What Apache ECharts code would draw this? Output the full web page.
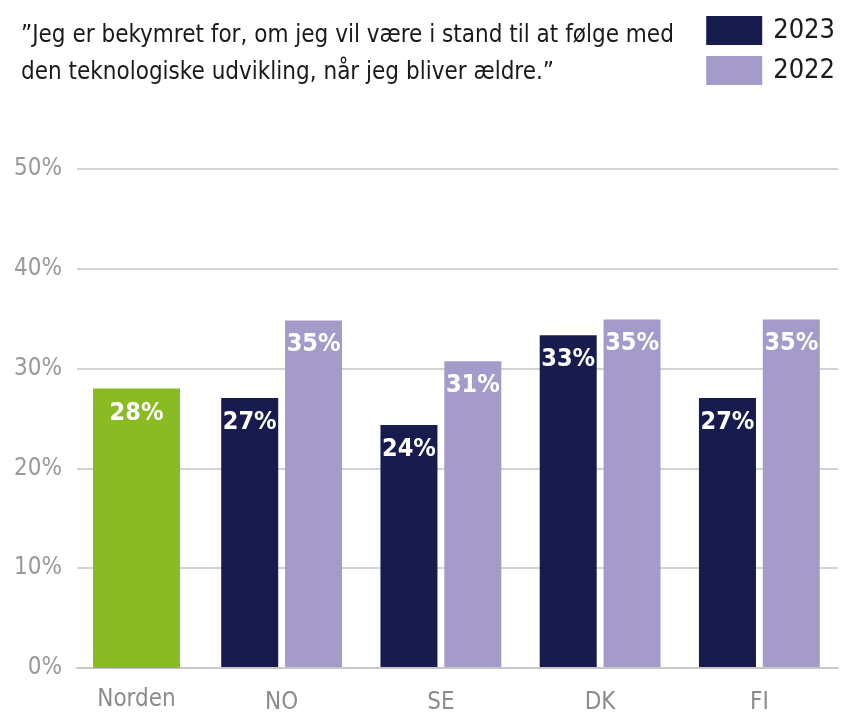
<!DOCTYPE html>
<html>
<head>
<meta charset="utf-8">
<script src="https://cdn.jsdelivr.net/npm/echarts@6/dist/echarts.min.js"></script>
<style>
  html, body { margin: 0; padding: 0; background: #fff; }
  #chart { width: 846px; height: 715px; }
</style>
</head>
<body>
<div id="chart"></div>
<script>
// data
var categories = ["NO", "SE", "DK", "FI"];
var values2023 = [27.0, 24.3, 33.3, 27.0];
var values2022 = [34.8, 30.7, 34.9, 34.9];
var nordenLabel = ["Norden"];
var nordenValue = [28.0];
var yTicks = [0, 10, 20, 30, 40, 50];

var FONT = "'DejaVu Sans Condensed', 'Liberation Sans Narrow', Roboto, sans-serif";
var NAVY = "#171b4e";
var LAVENDER = "#a59bcb";
var GREEN = "#8abb25";

var myChart = echarts.init(document.getElementById("chart"));

var barLabel = {
    show: true,
    position: "insideTop",
    distance: 12,
    color: "#fff",
    fontFamily: FONT,
    fontWeight: "bold",
    fontSize: 25,
    formatter: function (p) { return Math.round(p.value) + "%"; }
};

var option = {
    animation: false,
    title: {
        text: "”Jeg er bekymret for, om jeg vil være i stand til at følge med\nden teknologiske udvikling, når jeg bliver ældre.”",
        left: 16,
        top: 12,
        textStyle: {
            fontFamily: FONT,
            fontWeight: "normal",
            fontSize: 24,
            lineHeight: 37,
            color: "#1a1a1a"
        }
    },
    legend: {
        orient: "vertical",
        right: 6,
        top: 11,
        itemWidth: 56,
        itemHeight: 29,
        itemGap: 11,
        icon: "rect",
        data: ["2023", "2022"],
        textStyle: { fontFamily: FONT, fontSize: 27, color: "#1a1a1a", padding: [6, 0, 0, 6] }
    },
    grid: [
        // gridlines + y labels
        { left: 77, right: 8, top: 169, bottom: 47 },
        // country bars
        { left: 202, right: 7, top: 169, bottom: 47 },
        // Norden bar
        { left: 93, width: 87, top: 169, bottom: 47 }
    ],
    xAxis: [
        { gridIndex: 0, type: "category", data: [""], show: true,
          axisLine: { lineStyle: { color: "#c8c8c8", width: 2 } },
          axisTick: { show: false }, axisLabel: { show: false } },
        { gridIndex: 1, type: "category", data: categories,
          axisLine: { show: false }, axisTick: { show: false },
          axisLabel: { fontFamily: FONT, fontSize: 24, color: "#8c8c8c", margin: 24 } },
        { gridIndex: 2, type: "category", data: nordenLabel,
          axisLine: { show: false }, axisTick: { show: false },
          axisLabel: { fontFamily: FONT, fontSize: 24, color: "#8c8c8c", margin: 20 } }
    ],
    yAxis: [
        { gridIndex: 0, type: "value", min: 0, max: 50, interval: 10,
          axisLine: { show: false }, axisTick: { show: false },
          splitLine: { lineStyle: { color: "#c4c4c4", width: 1.5 } },
          axisLabel: { fontFamily: FONT, fontSize: 24, color: "#999", margin: 15,
                       formatter: function (v) { return yTicks.indexOf(v) >= 0 ? v + "%" : ""; } } },
        { gridIndex: 1, type: "value", min: 0, max: 50, show: false },
        { gridIndex: 2, type: "value", min: 0, max: 50, show: false }
    ],
    series: [
        { name: "2023", type: "bar", xAxisIndex: 1, yAxisIndex: 1, data: values2023,
          barWidth: 57, barGap: "12%", itemStyle: { color: NAVY }, label: barLabel },
        { name: "2022", type: "bar", xAxisIndex: 1, yAxisIndex: 1, data: values2022,
          barWidth: 57, barGap: "12%", itemStyle: { color: LAVENDER }, label: barLabel },
        { name: "Norden", type: "bar", xAxisIndex: 2, yAxisIndex: 2, data: nordenValue,
          barWidth: 87, itemStyle: { color: GREEN }, label: barLabel }
    ]
};

myChart.setOption(option);
</script>
</body>
</html>
